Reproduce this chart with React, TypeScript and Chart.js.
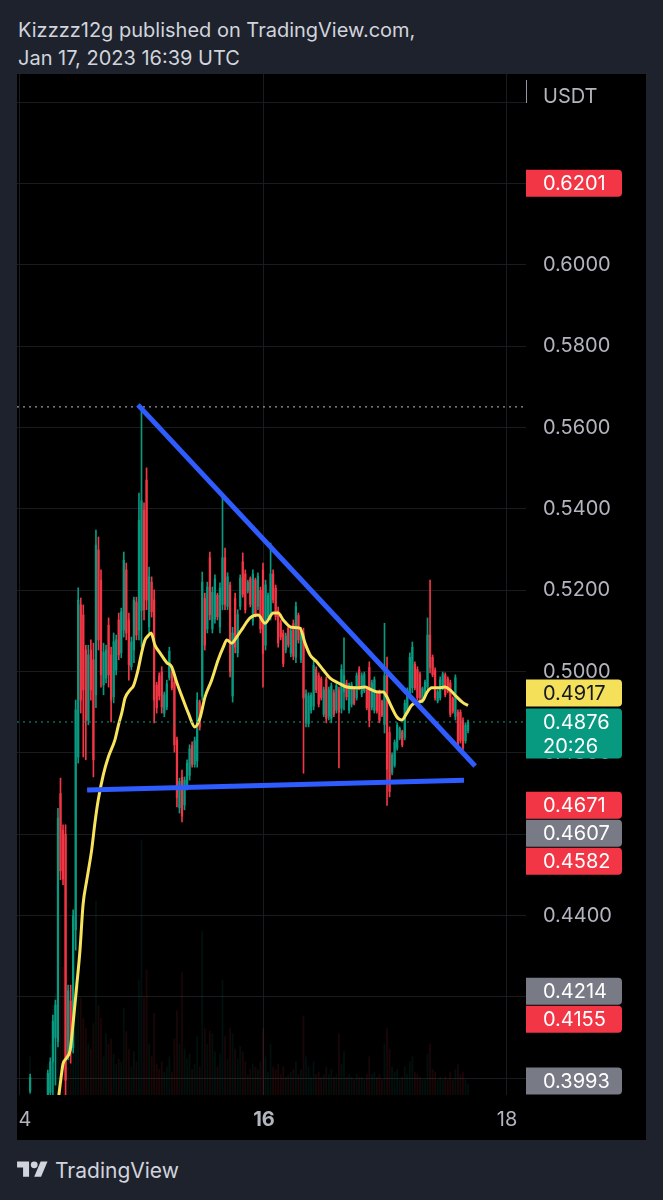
import React, { useEffect, useRef } from 'react';
import { Chart, registerables } from 'chart.js';

Chart.register(...registerables);

// ---- data (x = half-hour candles counted from Jan 14 00:00 UTC) ----
const FIRST_INDEX = 4;

const opens = [
  0.3968, null, null, null, null, null, null, 0.3960, 0.3965, 0.4040,
  0.4100, 0.4090, 0.4700, 0.4610, 0.4600, 0.4060, 0.4190, 0.4075, 0.4365, 0.4790,
  0.5164, 0.5139, 0.5053, 0.4880, 0.5053, 0.5029, 0.4943, 0.5299, 0.5225, 0.4967,
  0.4984, 0.5114, 0.5041, 0.4938, 0.5004, 0.5127, 0.5046, 0.5102, 0.5250, 0.5127,
  0.5012, 0.5053, 0.5171, 0.5102, 0.5150, 0.5397, 0.5471, 0.5110, 0.5220, 0.5176,
  0.4967, 0.4990, 0.4999, 0.4898, 0.4913, 0.4985, 0.4999, 0.4974, 0.4832, 0.4665,
  0.4740, 0.4672, 0.4718, 0.4745, 0.4818, 0.4772, 0.4780, 0.4925, 0.4940, 0.5180,
  0.5105, 0.5280, 0.5105, 0.5130, 0.5188, 0.5110, 0.5165, 0.5280, 0.5160, 0.5213,
  0.4940, 0.5180, 0.5046, 0.5160, 0.5270, 0.5240, 0.5198, 0.5228, 0.5125, 0.5225,
  0.5160, 0.5200, 0.5250, 0.5065, 0.5135, 0.5140, 0.5240, 0.5205, 0.5150, 0.5120,
  0.5095, 0.5053, 0.5108, 0.5045, 0.5118, 0.5035, 0.5138, 0.5030, 0.5095, 0.4875,
  0.4872, 0.4905, 0.4915, 0.5005, 0.4990, 0.4982, 0.4895, 0.4980, 0.4890, 0.4885,
  0.4948, 0.4905, 0.4955, 0.4910, 0.4950, 0.4972, 0.4905, 0.4920, 0.4958, 0.4936,
  0.5005, 0.4945, 0.4953, 0.4957, 0.5010, 0.4912, 0.4905, 0.4943, 0.4950, 0.4926,
  0.4870, 0.5000, 0.4850, 0.4752, 0.4770, 0.4812, 0.4836, 0.4852, 0.4838, 0.4905,
  0.4945, 0.4960, 0.5018, 0.5005, 0.4993, 0.4928, 0.4943, 0.4962, 0.5090, 0.5035,
  0.5003, 0.4928, 0.4936, 0.4960, 0.4992, 0.4982, 0.4972, 0.4933, 0.4890, 0.4900,
  0.4900, 0.4880, 0.4830, 0.4855,
];

const highs = [
  0.4010, null, null, null, null, null, null, 0.4020, 0.4050, 0.4155,
  0.4192, 0.4664, 0.4738, 0.4623, 0.4623, 0.4229, 0.4229, 0.4414, 0.4930, 0.5206,
  0.5181, 0.5164, 0.5065, 0.5065, 0.5078, 0.5070, 0.5348, 0.5331, 0.5250, 0.5070,
  0.5065, 0.5132, 0.5060, 0.5095, 0.5090, 0.5144, 0.5156, 0.5294, 0.5267, 0.5144,
  0.5085, 0.5183, 0.5183, 0.5439, 0.5651, 0.5415, 0.5501, 0.5257, 0.5233, 0.5201,
  0.4974, 0.4997, 0.5012, 0.4950, 0.4979, 0.5060, 0.5004, 0.4987, 0.4839, 0.4738,
  0.4758, 0.4741, 0.4783, 0.4820, 0.4827, 0.4839, 0.4948, 0.4930, 0.5245, 0.5193,
  0.5220, 0.5294, 0.5208, 0.5238, 0.5193, 0.5218, 0.5429, 0.5304, 0.5243, 0.5220,
  0.5109, 0.5193, 0.5152, 0.5238, 0.5292, 0.5250, 0.5225, 0.5233, 0.5250, 0.5230,
  0.5243, 0.5208, 0.5267, 0.5225, 0.5193, 0.5316, 0.5250, 0.5213, 0.5159, 0.5127,
  0.5102, 0.5095, 0.5114, 0.5109, 0.5127, 0.5171, 0.5144, 0.5109, 0.5107, 0.4955,
  0.4948, 0.4948, 0.5029, 0.5012, 0.4997, 0.4987, 0.4962, 0.4987, 0.4962, 0.4972,
  0.4955, 0.4972, 0.4962, 0.5017, 0.5083, 0.4979, 0.4972, 0.4974, 0.4962, 0.4997,
  0.5012, 0.4997, 0.4999, 0.4962, 0.5024, 0.4979, 0.4987, 0.4948, 0.4955, 0.4930,
  0.5119, 0.5036, 0.4864, 0.4800, 0.4832, 0.4874, 0.4864, 0.4856, 0.4930, 0.4960,
  0.5046, 0.5073, 0.5024, 0.5012, 0.4999, 0.4962, 0.4979, 0.5132, 0.5225, 0.5041,
  0.5009, 0.4955, 0.4987, 0.4999, 0.4997, 0.4987, 0.4979, 0.4938, 0.4992, 0.4906,
  0.4906, 0.4886, 0.4874, 0.4881,
];

const lows = [
  0.3963, null, null, null, null, null, null, 0.3955, 0.3955, 0.3958,
  0.3983, 0.4077, 0.4488, 0.4476, 0.3959, 0.4045, 0.4037, 0.4062, 0.4315, 0.4775,
  0.4898, 0.4790, 0.4783, 0.4869, 0.4930, 0.4741, 0.4911, 0.5053, 0.4962, 0.4943,
  0.4972, 0.4962, 0.4876, 0.4923, 0.4992, 0.5029, 0.5034, 0.5085, 0.5078, 0.4979,
  0.5004, 0.5022, 0.5078, 0.5078, 0.5060, 0.5127, 0.5152, 0.5095, 0.5134, 0.4874,
  0.4898, 0.4930, 0.4898, 0.4889, 0.4906, 0.4979, 0.4955, 0.4802, 0.4667, 0.4652,
  0.4630, 0.4660, 0.4709, 0.4733, 0.4765, 0.4765, 0.4765, 0.4856, 0.4930, 0.5053,
  0.5095, 0.5127, 0.5095, 0.5119, 0.5127, 0.5095, 0.5152, 0.5152, 0.5152, 0.4987,
  0.4925, 0.5046, 0.5036, 0.5152, 0.5183, 0.5144, 0.5193, 0.5159, 0.5114, 0.5134,
  0.5152, 0.5095, 0.4962, 0.5053, 0.5127, 0.5127, 0.5169, 0.5127, 0.5060, 0.5078,
  0.5012, 0.5046, 0.5060, 0.5036, 0.5029, 0.5022, 0.5070, 0.5022, 0.4750, 0.4864,
  0.4864, 0.4898, 0.4906, 0.4948, 0.4913, 0.4930, 0.4889, 0.4874, 0.4881, 0.4874,
  0.4889, 0.4898, 0.4763, 0.4898, 0.4906, 0.4930, 0.4898, 0.4913, 0.4918, 0.4930,
  0.4955, 0.4938, 0.4948, 0.4906, 0.4864, 0.4906, 0.4898, 0.4898, 0.4874, 0.4889,
  0.4849, 0.4671, 0.4692, 0.4746, 0.4765, 0.4807, 0.4832, 0.4815, 0.4832, 0.4898,
  0.4938, 0.4948, 0.4955, 0.4930, 0.4930, 0.4923, 0.4938, 0.4955, 0.4997, 0.4987,
  0.4930, 0.4923, 0.4930, 0.4955, 0.4938, 0.4948, 0.4889, 0.4898, 0.4881, 0.4815,
  0.4824, 0.4807, 0.4824, 0.4849,
];

const closes = [
  0.4002, null, null, null, null, null, null, 0.4012, 0.4040, 0.4140,
  0.4180, 0.4640, 0.4510, 0.4490, 0.3995, 0.4215, 0.4069, 0.4400, 0.4906, 0.5176,
  0.4930, 0.4955, 0.4880, 0.5041, 0.4955, 0.4783, 0.5311, 0.5078, 0.4992, 0.5048,
  0.5053, 0.4992, 0.4930, 0.5073, 0.5078, 0.5041, 0.5147, 0.5274, 0.5095, 0.5017,
  0.5073, 0.5176, 0.5090, 0.5372, 0.5420, 0.5152, 0.5176, 0.5233, 0.5147, 0.4930,
  0.4911, 0.4940, 0.4913, 0.4943, 0.4970, 0.5050, 0.4960, 0.4820, 0.4690, 0.4730,
  0.4645, 0.4733, 0.4775, 0.4810, 0.4772, 0.4830, 0.4930, 0.4864, 0.5220, 0.5065,
  0.5208, 0.5140, 0.5195, 0.5228, 0.5135, 0.5205, 0.5280, 0.5165, 0.5233, 0.5000,
  0.5095, 0.5060, 0.5140, 0.5230, 0.5190, 0.5152, 0.5220, 0.5165, 0.5240, 0.5140,
  0.5235, 0.5105, 0.5045, 0.5213, 0.5188, 0.5240, 0.5176, 0.5135, 0.5070, 0.5085,
  0.5020, 0.5088, 0.5066, 0.5100, 0.5038, 0.5160, 0.5078, 0.5100, 0.4935, 0.4945,
  0.4940, 0.4942, 0.5015, 0.4955, 0.4920, 0.4936, 0.4955, 0.4885, 0.4955, 0.4965,
  0.4895, 0.4965, 0.4900, 0.5005, 0.4990, 0.4938, 0.4965, 0.4968, 0.4922, 0.4990,
  0.4960, 0.4990, 0.4993, 0.4911, 0.4880, 0.4972, 0.4980, 0.4903, 0.4880, 0.4893,
  0.4990, 0.4760, 0.4705, 0.4795, 0.4826, 0.4868, 0.4860, 0.4820, 0.4922, 0.4955,
  0.5035, 0.5060, 0.4960, 0.4936, 0.4936, 0.4958, 0.4974, 0.5090, 0.5010, 0.4992,
  0.4936, 0.4950, 0.4980, 0.4994, 0.4943, 0.4952, 0.4895, 0.4903, 0.4985, 0.4820,
  0.4830, 0.4812, 0.4868, 0.4876,
];

// volume, thousands USDT
const volumes = [
  150, null, null, null, null, null, null, 120, 200, 350,
  400, 900, 700, 500, 800, 400, 350, 500, 700, 430,
  380, 300, 260, 200, 180, 280, 760, 350, 300, 150,
  240, 200, 220, 160, 120, 140, 130, 340, 250, 180,
  110, 170, 130, 450, 1000, 380, 490, 200, 150, 320,
  120, 100, 130, 90, 110, 150, 90, 220, 330, 200,
  480, 180, 140, 160, 100, 120, 230, 110, 640, 260,
  200, 250, 240, 170, 110, 160, 450, 230, 140, 260,
  240, 180, 140, 190, 170, 130, 80, 100, 120, 110,
  100, 130, 260, 150, 90, 200, 110, 100, 120, 80,
  110, 70, 80, 90, 100, 130, 80, 100, 310, 150,
  110, 70, 130, 80, 90, 70, 80, 110, 80, 100,
  70, 80, 240, 120, 170, 70, 80, 70, 60, 80,
  70, 70, 60, 80, 150, 80, 90, 70, 80, 60,
  200, 260, 180, 110, 90, 100, 60, 70, 110, 80,
  130, 150, 90, 80, 70, 60, 60, 160, 200, 100,
  90, 60, 70, 60, 70, 60, 90, 60, 100, 120,
  80, 90, 60, 40,
];

// moving average line (candle index, value)
const maIndex = [
  15, 16.5, 17, 18.4, 19.8, 21.1, 22.4, 23.7, 24.9, 26.4, 28.3, 29.6, 30.9, 32.9, 34.9,
  37.5, 38.8, 40.3, 41.5, 43.5, 44.8, 45.8, 46.7, 48.1, 49.4, 50.6, 51.8, 53.3, 55.3, 58,
  59.9, 61.9, 64.5, 66.5, 69.1, 71.1, 73.1, 75.7, 78.3, 80.3, 81.7, 83.6, 85.6, 88.2, 90.9,
  94.1, 96.8, 100.1, 102, 104, 107.3, 110.6, 112.6, 114.6, 117.2, 119.8, 122.5, 125.8, 129.1, 133,
  136.3, 138.9, 141.6, 143.5, 144.9, 146.8, 148.8, 150.8, 152.8, 154.8, 157.4, 159.3, 160.7, 162.7, 165.3,
  167.9, 169.9, 172.5, 175.1, 177,
];
const maValue = [
  0.3940, 0.4015, 0.4035, 0.4050, 0.4069, 0.4143, 0.4227, 0.4315, 0.4426, 0.4488, 0.4561, 0.4628, 0.4684, 0.4746, 0.4790,
  0.4832, 0.4866, 0.4901, 0.4935, 0.4955, 0.4965, 0.4984, 0.5006, 0.5048, 0.5078, 0.5088, 0.5095, 0.5065, 0.5046, 0.5022,
  0.5012, 0.4974, 0.4930, 0.4898, 0.4864, 0.4886, 0.4938, 0.4979, 0.5029, 0.5060, 0.5078, 0.5070, 0.5085, 0.5109, 0.5132,
  0.5139, 0.5119, 0.5144, 0.5144, 0.5127, 0.5109, 0.5107, 0.5070, 0.5041, 0.5024, 0.5004, 0.4984, 0.4972, 0.4962, 0.4960,
  0.4962, 0.4955, 0.4950, 0.4950, 0.4938, 0.4913, 0.4889, 0.4881, 0.4898, 0.4918, 0.4925, 0.4930, 0.4948, 0.4960, 0.4960,
  0.4962, 0.4955, 0.4938, 0.4923, 0.4917,
];

// drawn trendlines
const trendDown = { from: [46.6, 0.5656], to: [179.8, 0.4768] };
const trendFlat = { from: [26.5, 0.4709], to: [175.4, 0.4733] };

const sessionHigh = 0.5651;
const lastPrice = 0.4876;
const countdown = '20:26';

const priceTicks = [0.40, 0.42, 0.44, 0.46, 0.48, 0.50, 0.52, 0.54, 0.56, 0.58, 0.60, 0.62, 0.64];
const timeTicks = [0, 96, 192];
const timeLabels = ['14', '16', '18'];
const timeBold = [false, true, false];
const currency = 'USDT';

const labelValues = [0.6201, 0.4917, 0.4876, 0.4671, 0.4607, 0.4582, 0.4214, 0.4155, 0.3993];
const labelKinds = ['red', 'yellow', 'last', 'red', 'gray', 'red', 'gray', 'red', 'gray'];

const title1 = 'Kizzzz12g published on TradingView.com,';
const title2 = 'Jan 17, 2023 16:39 UTC';

// ---- styles ----
const GREEN = '#089981';
const RED = '#f23645';
const GRID = '#1a1b1f';
const AXIS_TEXT = '#b2b5be';
const FONT = 'Inter, "Noto Sans", sans-serif';
const KIND_STYLE: Record<string, { bg: string; fg: string }> = {
  red: { bg: '#f23645', fg: '#ffffff' },
  gray: { bg: '#787b86', fg: '#ffffff' },
  yellow: { bg: '#f5e05a', fg: '#131722' },
  last: { bg: '#089981', fg: '#ffffff' },
};

const X_MIN = -1.185;
const X_MAX = 199.9;
const Y_MIN = 0.39587;
const Y_MAX = 0.64697;

const overlayPlugin = {
  id: 'overlay',
  afterDraw(chart: any) {
    const ctx = chart.ctx as CanvasRenderingContext2D;
    const xs = chart.scales.x;
    const ys = chart.scales.y;
    const area = chart.chartArea;
    ctx.save();
    // time labels
    ctx.fillStyle = AXIS_TEXT;
    ctx.textBaseline = 'middle';
    ctx.textAlign = 'center';
    timeTicks.forEach((v, i) => {
      ctx.font = (timeBold[i] ? '700 ' : '400 ') + '20px ' + FONT;
      ctx.fillText(timeLabels[i], xs.getPixelForValue(v) + 1, area.bottom + 25);
    });
    // currency
    ctx.font = '20px ' + FONT;
    ctx.textAlign = 'left';
    ctx.fillText(currency, area.right + 17, 23);
    ctx.strokeStyle = '#9598a1';
    ctx.lineWidth = 1;
    ctx.beginPath();
    ctx.moveTo(area.right + 0.5, 6);
    ctx.lineTo(area.right + 0.5, 29);
    ctx.stroke();

    // price labels
    const items = labelValues.map((v, i) => {
      const cy = ys.getPixelForValue(v);
      const h = labelKinds[i] === 'last' ? 50 : 27;
      return { v, kind: labelKinds[i], cy, top: cy - 13.5, h };
    });
    const anchor = items.find((it) => it.kind === 'last')!;
    const above = items.filter((it) => it !== anchor && it.cy < anchor.cy).sort((a, b) => b.cy - a.cy);
    const below = items.filter((it) => it !== anchor && it.cy >= anchor.cy).sort((a, b) => a.cy - b.cy);
    let limit = anchor.top - 2;
    above.forEach((it) => {
      it.top = Math.min(it.top, limit - it.h);
      limit = it.top - 1;
    });
    limit = anchor.top + anchor.h + 1;
    below.forEach((it) => {
      it.top = Math.max(it.top, limit);
      limit = it.top + it.h + 1;
    });
    const x0 = area.right;
    const w = 96;
    items.forEach((it) => {
      const st = KIND_STYLE[it.kind];
      ctx.fillStyle = st.bg;
      ctx.beginPath();
      (ctx as any).roundRect(x0, it.top, w, it.h, [0, 4, 4, 0]);
      ctx.fill();
      ctx.fillStyle = st.fg;
      ctx.font = '20px ' + FONT;
      ctx.textAlign = 'left';
      ctx.fillText(it.v.toFixed(4), x0 + 17, it.top + 14);
      if (it.kind === 'last') ctx.fillText(countdown, x0 + 17, it.top + 38);
    });
    ctx.restore();
  },
};

export default function App() {
  const ref = useRef<HTMLCanvasElement | null>(null);

  useEffect(() => {
    if (!ref.current) return;
    const wick: any[] = [];
    const body: any[] = [];
    const vol: any[] = [];
    const colors: string[] = [];
    const volColors: string[] = [];
    for (let k = 0; k < opens.length; k++) {
      const o = opens[k];
      const c = closes[k];
      const h = highs[k];
      const l = lows[k];
      if (o == null || c == null || h == null || l == null) continue;
      const x = FIRST_INDEX + k;
      const up = c >= o;
      wick.push({ x, y: [l, h] });
      body.push({ x, y: [Math.min(o, c), Math.max(o, c)] });
      colors.push(up ? GREEN : RED);
      vol.push({ x, y: volumes[k] ?? 0 });
      volColors.push(up ? 'rgba(8,153,129,0.10)' : 'rgba(242,54,69,0.10)');
    }
    const ma = maIndex.map((x, i) => ({ x, y: maValue[i] }));

    const chart = new Chart(ref.current, {
      type: 'bar',
      data: {
        datasets: [
          { type: 'bar', data: vol, yAxisID: 'vol', backgroundColor: volColors, barThickness: 1.2, grouped: false, order: 6 } as any,
          { type: 'bar', data: wick, yAxisID: 'y', backgroundColor: colors, barThickness: 1, grouped: false, order: 5 } as any,
          { type: 'bar', data: body, yAxisID: 'y', backgroundColor: colors, barThickness: 1.6, minBarLength: 1, grouped: false, order: 4 } as any,
          { type: 'line', data: ma, yAxisID: 'y', borderColor: '#f7e35c', borderWidth: 3, pointRadius: 0, tension: 0.35, cubicInterpolationMode: 'monotone', order: 3 } as any,
          { type: 'line', data: [{ x: X_MIN, y: sessionHigh }, { x: X_MAX, y: sessionHigh }], yAxisID: 'y', borderColor: 'rgba(220,222,228,0.85)', borderWidth: 1, borderDash: [2, 4], pointRadius: 0, order: 2 } as any,
          { type: 'line', data: [{ x: X_MIN, y: lastPrice }, { x: X_MAX, y: lastPrice }], yAxisID: 'y', borderColor: GREEN, borderWidth: 1.2, borderDash: [2, 4], pointRadius: 0, order: 2 } as any,
          { type: 'line', data: [{ x: trendDown.from[0], y: trendDown.from[1] }, { x: trendDown.to[0], y: trendDown.to[1] }], yAxisID: 'y', borderColor: '#2f5cff', borderWidth: 5, pointRadius: 0, borderCapStyle: 'butt', order: 1 } as any,
          { type: 'line', data: [{ x: trendFlat.from[0], y: trendFlat.from[1] }, { x: trendFlat.to[0], y: trendFlat.to[1] }], yAxisID: 'y', borderColor: '#2f5cff', borderWidth: 5, pointRadius: 0, borderCapStyle: 'butt', order: 1 } as any,
        ],
      },
      options: {
        animation: false,
        responsive: false,
        maintainAspectRatio: false,
        events: [],
        layout: { padding: 0 },
        plugins: { legend: { display: false }, tooltip: { enabled: false } },
        scales: {
          x: {
            type: 'linear',
            min: X_MIN,
            max: X_MAX,
            offset: false,
            grid: { color: GRID, drawTicks: false, offset: false },
            border: { display: false },
            ticks: { display: false },
            afterBuildTicks: (s: any) => {
              s.ticks = timeTicks.map((v) => ({ value: v }));
            },
            afterFit: (s: any) => {
              s.height = 45;
              s.paddingLeft = 0;
              s.paddingRight = 0;
              s.paddingTop = 0;
              s.paddingBottom = 0;
            },
          },
          y: {
            type: 'linear',
            position: 'right',
            min: Y_MIN,
            max: Y_MAX,
            beginAtZero: false,
            grid: { color: GRID, drawTicks: false },
            border: { display: false },
            ticks: {
              autoSkip: false,
              padding: 17,
              color: AXIS_TEXT,
              font: { family: FONT, size: 20 },
              callback: (v: any) => (Number(v) > 0.635 ? '' : Number(v).toFixed(4)),
            },
            afterBuildTicks: (s: any) => {
              s.ticks = priceTicks.map((v) => ({ value: v }));
            },
            afterFit: (s: any) => {
              s.width = 120;
              s.paddingLeft = 0;
              s.paddingRight = 0;
              s.paddingTop = 0;
              s.paddingBottom = 0;
            },
          },
          vol: { type: 'linear', display: false, min: 0, max: 4000 },
        },
      } as any,
      plugins: [overlayPlugin],
    });
    return () => chart.destroy();
  }, []);

  return (
    <div
      style={{
        position: 'absolute',
        left: 0,
        top: 0,
        width: 663,
        height: 1200,
        background: '#1e222d',
        overflow: 'hidden',
        fontFamily: FONT,
      }}
    >
      <div style={{ position: 'absolute', left: 18, top: 16, color: '#d1d4dc', fontSize: 20, lineHeight: '28px', whiteSpace: 'nowrap' }}>
        {title1}
        <br />
        {title2}
      </div>
      <canvas
        ref={ref}
        width={629}
        height={1066}
        style={{ position: 'absolute', left: 17, top: 74, width: 629, height: 1066, background: '#000' }}
      />
      <div style={{ position: 'absolute', left: 17, top: 1156, height: 28, display: 'flex', alignItems: 'center', color: '#d1d4dc' }}>
        <svg width="31" height="24" viewBox="0 0 36 28" style={{ marginRight: 7 }}>
          <path d="M14 22H7V11H0V4h14v18z" fill="#d1d4dc" />
          <circle cx="20" cy="8" r="4" fill="#d1d4dc" />
          <path d="M28 22h-8l7.5-18h8L28 22z" fill="#d1d4dc" />
        </svg>
        <span style={{ fontSize: 21 }}>TradingView</span>
      </div>
    </div>
  );
}
